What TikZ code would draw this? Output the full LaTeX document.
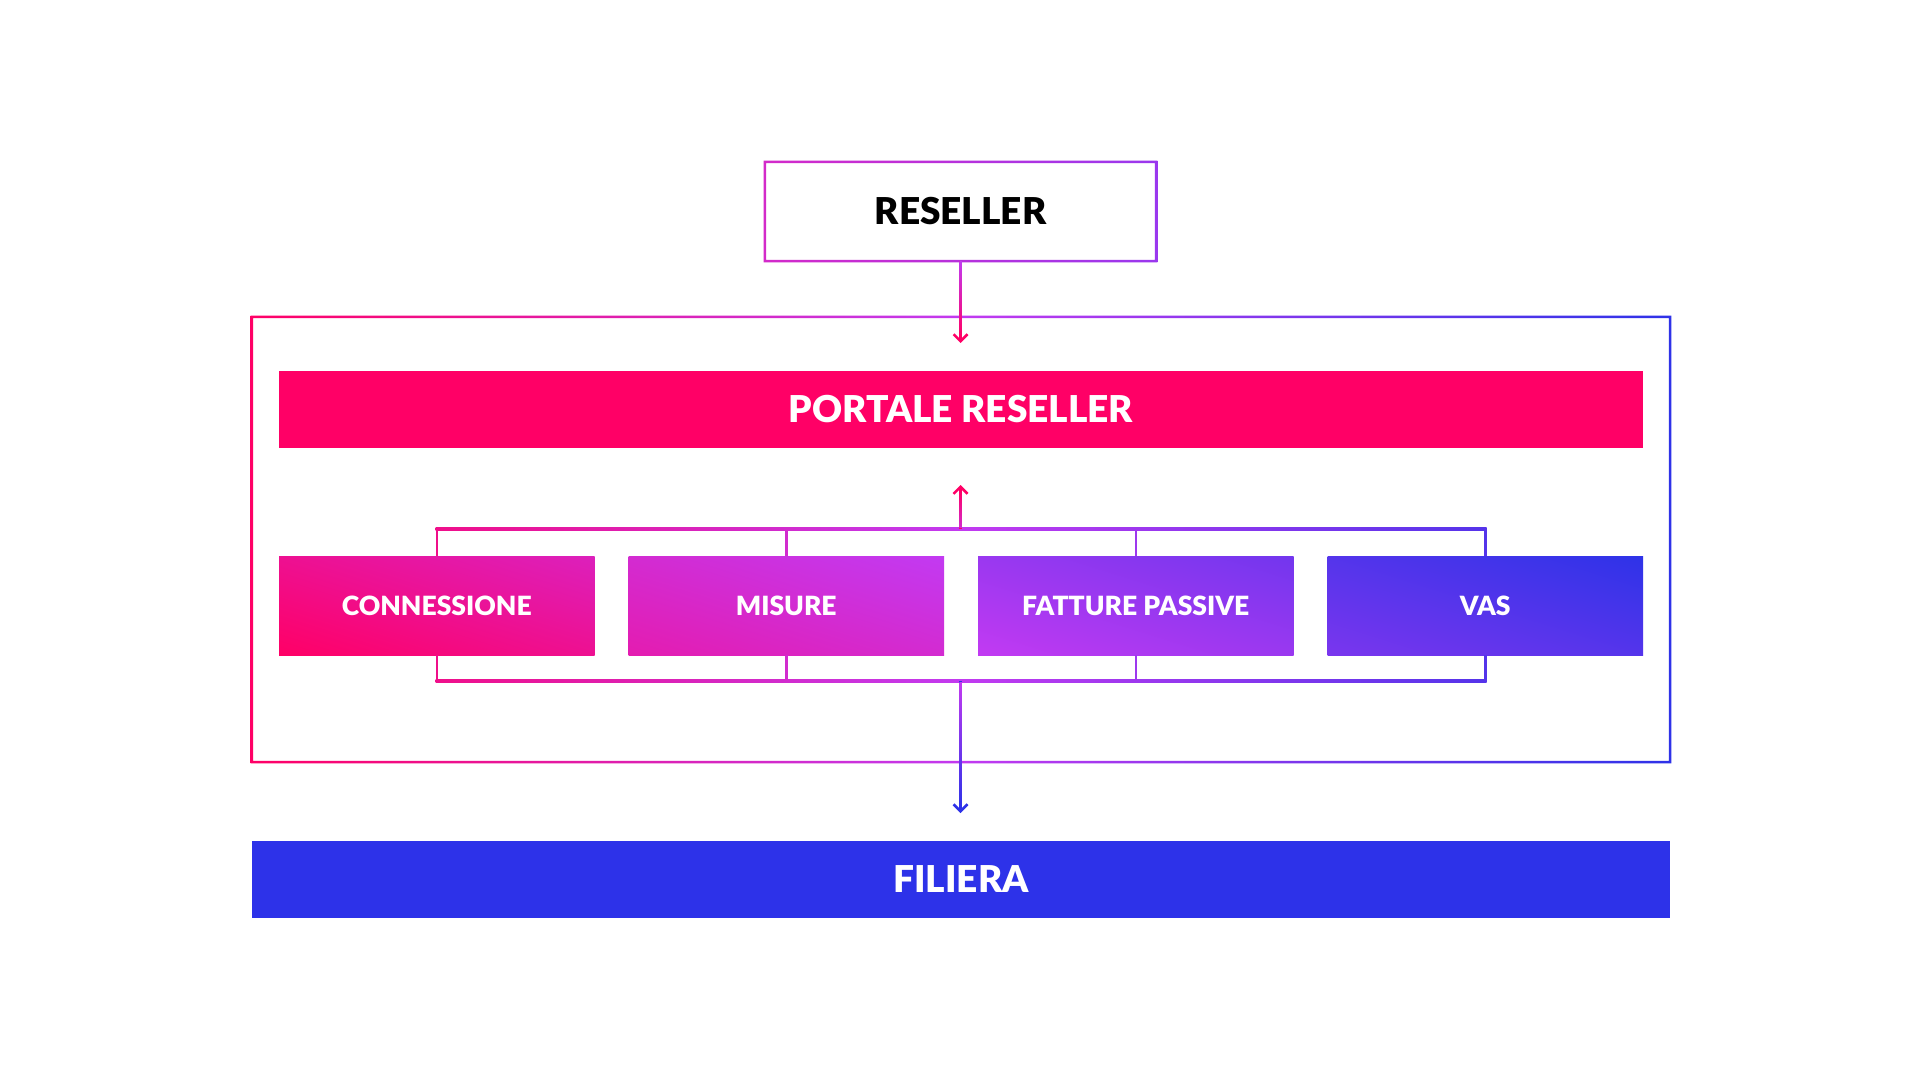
\documentclass[tikz,border=0pt]{standalone}
\usepackage{fontspec}
\setmainfont{Lato}
\newfontfamily\blackfont{Lato Black}
\usetikzlibrary{arrows.meta,shadings}
\definecolor{cP}{RGB}{255,0,102}
\definecolor{cV}{RGB}{194,58,240}
\definecolor{cB}{RGB}{46,50,232}
\definecolor{cFil}{RGB}{45,50,233}
\colorlet{cA}{cV!26!cP}
\colorlet{cC}{cV!75!cP}
\colorlet{cD}{cB!25!cV}
\colorlet{cE}{cB!74!cV}
\colorlet{cRL}{cV!72!cP}
\colorlet{cRR}{cB!27!cV}
\definecolor{bOneUR}{RGB}{220,32,188}
\definecolor{bTwoLL}{RGB}{228,28,176}
\definecolor{bTwoUR}{RGB}{194,58,242}
\definecolor{bThrLL}{RGB}{194,58,242}
\definecolor{bThrUR}{RGB}{114,54,238}
\definecolor{bFouLL}{RGB}{122,54,238}
\definecolor{bFouUR}{RGB}{46,51,232}
\begin{document}
\begin{tikzpicture}[x=1pt,y=-1pt,
  bigtxt/.style={font=\blackfont\fontsize{37}{37}\selectfont, text height=26.5pt, text depth=0pt, inner sep=0pt},
  smalltxt/.style={font=\blackfont\fontsize{26.5}{26.5}\selectfont, text height=19pt, text depth=0pt, inner sep=0pt, text=white},
  bar/.style={bigtxt, text=white, minimum height=77pt},
  sbox/.style={smalltxt, minimum width=315.5pt, minimum height=99pt},
  arr/.style={-{Straight Barb[length=7pt,width=14pt]}, line width=2.5pt},
  conn/.style={line width=2.5pt}
]
\useasboundingbox (0,0) rectangle (1920,1080);
\fill[white] (0,0) rectangle (1920,1080);

% nodes
\node[bigtxt, text=black, minimum width=391pt, minimum height=99pt] (reseller) at (960.5,211.5) {RESELLER};
\node[inner sep=0pt, minimum width=1418pt, minimum height=445pt] (outer) at (961,539.5) {};
\node[bar, fill=cP, minimum width=1364pt] (portale) at (961,409.5) {PORTALE RESELLER};
\node[sbox, lower left=cP, upper right=bOneUR, upper left=cP!50!bOneUR, lower right=cP!50!bOneUR] (b1) at (436.75,605.5) {CONNESSIONE};
\node[sbox, lower left=bTwoLL, upper right=bTwoUR, upper left=bTwoLL!50!bTwoUR, lower right=bTwoLL!50!bTwoUR] (b2) at (786.25,605.5) {MISURE};
\node[sbox, lower left=bThrLL, upper right=bThrUR, upper left=bThrLL!50!bThrUR, lower right=bThrLL!50!bThrUR] (b3) at (1135.75,605.5) {FATTURE PASSIVE};
\node[sbox, lower left=bFouLL, upper right=bFouUR, upper left=bFouLL!50!bFouUR, lower right=bFouLL!50!bFouUR] (b4) at (1485.25,605.5) {VAS};
\node[bar, fill=cFil, minimum width=1418pt] (filiera) at (961,879.5) {FILIERA};

% gradient borders
\shade[left color=cRL, right color=cRR, even odd rule]
  ([shift={(-1.25,-1.25)}]reseller.north west) rectangle ([shift={(1.25,1.25)}]reseller.south east)
  ([shift={(1.25,1.25)}]reseller.north west) rectangle ([shift={(-1.25,-1.25)}]reseller.south east);
\shade[left color=cP, right color=cB, middle color=cV, even odd rule]
  ([shift={(-1.25,-1.25)}]outer.north west) rectangle ([shift={(1.25,1.25)}]outer.south east)
  ([shift={(1.25,1.25)}]outer.north west) rectangle ([shift={(-1.25,-1.25)}]outer.south east);

% coordinates
\coordinate (tipA) at (960.5,343);
\coordinate (jt) at (960.5,529);
\coordinate (tipB) at (960.5,485);
\coordinate (jb) at (960.5,681);
\coordinate (tipC) at (960.5,813);

% reseller -> portale
\draw[arr, cP] (reseller.south) -- (tipA);
\shade[top color=cV, bottom color=cP] ([xshift=-1.25pt]reseller.south) rectangle ([xshift=1.25pt]tipA |- 0,336);

% top bracket
\draw[conn, cA] (b1.north) -- (b1.north |- jt);
\draw[conn, cC] (b2.north) -- (b2.north |- jt);
\draw[conn, cD] (b3.north) -- (b3.north |- jt);
\draw[conn, cE] (b4.north) -- (b4.north |- jt);
\shade[left color=cA, right color=cE, middle color=cV]
  ([shift={(-1.25,-1.25)}]b1.north |- jt) rectangle ([shift={(1.25,1.25)}]b4.north |- jt);
\draw[arr, cP] (jt) -- (tipB);
\shade[top color=cP, bottom color=cC] ([shift={(-1.25,6)}]tipB) rectangle ([shift={(1.25,-1.25)}]jt);

% bottom bracket
\draw[conn, cA] (b1.south) -- (b1.south |- jb);
\draw[conn, cC] (b2.south) -- (b2.south |- jb);
\draw[conn, cD] (b3.south) -- (b3.south |- jb);
\draw[conn, cE] (b4.south) -- (b4.south |- jb);
\shade[left color=cA, right color=cE, middle color=cV]
  ([shift={(-1.25,-1.25)}]b1.south |- jb) rectangle ([shift={(1.25,1.25)}]b4.south |- jb);
\draw[arr, cB] (jb) -- (tipC);
\shade[top color=cV, bottom color=cB] ([shift={(-1.25,1.25)}]jb) rectangle ([shift={(1.25,-6)}]tipC);
\end{tikzpicture}
\end{document}
